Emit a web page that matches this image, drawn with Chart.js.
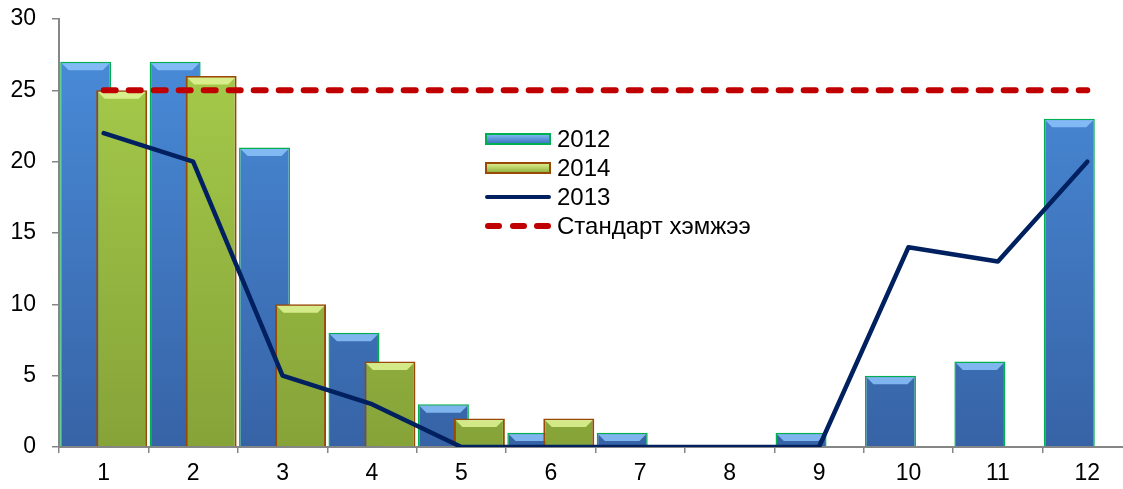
<!DOCTYPE html>
<html>
<head>
<meta charset="utf-8">
<script src="https://cdn.jsdelivr.net/npm/chart.js@4"></script>
<style>
  html, body { margin: 0; padding: 0; background: #fff; overflow: hidden; }
  #wrap { position: relative; width: 1133px; height: 489px; }
  #legend { position: absolute; left: 485px; top: 124px; font-family: "Liberation Sans", Arial, sans-serif; font-size: 24px; color: #000; }
  .row { display: flex; align-items: center; height: 29px; }
  .sym { width: 66px; margin-right: 6px; display: flex; align-items: center; justify-content: space-between; }
  .barBlue { height: 12px; border: 2px solid #00b050; background: linear-gradient(#7ab4f0, #3f78c4); box-sizing: border-box; }
  .barGreen { height: 12px; border: 2px solid #984807; background: linear-gradient(#d8ec8a, #93b440); box-sizing: border-box; }
  .lineNavy { height: 4px; border-radius: 2px; background: #002060; }
  .dash { width: 17px; height: 6px; border-radius: 3px; background: #c00000; }
</style>
</head>
<body>
<div id="wrap">
  <canvas id="chart" width="1133" height="489"></canvas>
  <div id="legend"></div>
</div>
<script>
// Months on the x axis
const months = ['1', '2', '3', '4', '5', '6', '7', '8', '9', '10', '11', '12'];

const values2012 = [27, 27, 21, 8, 3, 1, 1, 0, 1, 5, 6, 23];
const values2014 = [25, 26, 10, 6, 2, 2, null, null, null, null, null, null];
const values2013 = [22, 20, 5, 3, 0, 0, 0, 0, 0, 14, 13, 20];
const standard = [25, 25, 25, 25, 25, 25, 25, 25, 25, 25, 25, 25];

const seriesNames = ['2012', '2014', '2013', 'Стандарт хэмжээ'];
const yTicks = [0, 5, 10, 15, 20, 25, 30];

const font = '"Liberation Sans", Arial, sans-serif';

function vGradient(ctx, top, bottom) {
  const area = ctx.chart.chartArea;
  if (!area) return top;
  const g = ctx.chart.ctx.createLinearGradient(0, area.top, 0, area.bottom);
  g.addColorStop(0, top);
  g.addColorStop(1, bottom);
  return g;
}

function drawBevel(chart, index) {
  const ds = chart.data.datasets[index];
  const meta = chart.getDatasetMeta(index);
  const c = chart.ctx;
  meta.data.forEach((bar, i) => {
    if (!ds.data[i]) return;
    const p = bar.getProps(['x', 'y', 'width', 'base'], true);
    const h = p.base - p.y;
    const b = Math.min(7, h / 2);
    const l = p.x - p.width / 2 + 1.5;
    const r = p.x + p.width / 2 - 1.5;
    const t = p.y + 1.5;
    c.save();
    c.fillStyle = ds.bevel;
    c.beginPath();
    c.moveTo(l, t);
    c.lineTo(r, t);
    c.lineTo(r - b, t + b);
    c.lineTo(l + b, t + b);
    c.closePath();
    c.fill();
    c.restore();
  });
}

// 2012 sits left in each group but 2014 must be painted over it,
// so the 2014 bars are drawn right after the 2012 ones
let drawingLate = false;
const barsPlugin = {
  id: 'bars',
  beforeDatasetDraw(chart, args) {
    if (args.index === 1 && !drawingLate) return false;
  },
  afterDatasetDraw(chart, args) {
    if (args.index !== 0) return;
    drawBevel(chart, 0);
    drawingLate = true;
    chart.getDatasetMeta(1).controller.draw();
    drawingLate = false;
    drawBevel(chart, 1);
  }
};

new Chart(document.getElementById('chart'), {
  data: {
    labels: months,
    datasets: [
      {
        type: 'bar',
        label: seriesNames[0],
        data: values2012,
        order: 2,
        backgroundColor: ctx => vGradient(ctx, '#4a8edc', '#3763a6'),
        borderColor: '#00b050',
        borderWidth: 1.5,
        bevel: 'rgba(140,195,250,0.85)',
        categoryPercentage: 0.805,
        barPercentage: 1.417,
      },
      {
        type: 'bar',
        label: seriesNames[1],
        data: values2014,
        order: 3,
        backgroundColor: ctx => vGradient(ctx, '#a8cf4c', '#86a338'),
        borderColor: '#984807',
        borderWidth: 2,
        bevel: 'rgba(225,245,150,0.85)',
        categoryPercentage: 0.805,
        barPercentage: 1.417,
      },
      {
        type: 'line',
        label: seriesNames[2],
        data: values2013,
        order: 0,
        borderColor: '#002060',
        borderWidth: 4.5,
        borderCapStyle: 'round',
        borderJoinStyle: 'round',
        pointRadius: 0,
        tension: 0,
      },
      {
        type: 'line',
        label: seriesNames[3],
        data: standard,
        order: 1,
        borderColor: '#c00000',
        borderWidth: 6,
        borderDash: [12, 13],
        borderCapStyle: 'round',
        pointRadius: 0,
      },
    ],
  },
  options: {
    responsive: false,
    animation: false,
    layout: { padding: { top: 19, right: 1, bottom: 0, left: 0 } },
    plugins: {
      legend: { display: false },
      tooltip: { enabled: false },
    },
    scales: {
      x: {
        afterFit: s => { s.height = 42; },
        grid: { offset: true, drawOnChartArea: false, tickLength: 6, color: '#868686', lineWidth: 1.5 },
        border: { color: '#868686', width: 2 },
        ticks: { color: '#000', font: { family: font, size: 23 }, padding: 7, maxRotation: 0 },
      },
      y: {
        min: 0,
        max: 30,
        afterFit: s => { s.width = 59; s.paddingTop = 0; s.paddingBottom = 0; },
        afterBuildTicks: s => { s.ticks = yTicks.map(v => ({ value: v })); },
        grid: { drawOnChartArea: false, tickLength: 7, color: '#868686', lineWidth: 1.5 },
        border: { color: '#868686', width: 2 },
        ticks: { color: '#000', font: { family: font, size: 23 }, padding: 16 },
      },
    },
  },
  plugins: [barsPlugin],
});

// legend drawn as html inside the plot
const symbols = [
  '<div class="sym"><div class="barBlue" style="width:66px"></div></div>',
  '<div class="sym"><div class="barGreen" style="width:66px"></div></div>',
  '<div class="sym"><div class="lineNavy" style="width:66px"></div></div>',
  '<div class="sym"><div class="dash"></div><div class="dash"></div><div class="dash"></div></div>',
];
document.getElementById('legend').innerHTML = seriesNames
  .map((name, i) => '<div class="row">' + symbols[i] + '<span>' + name + '</span></div>')
  .join('');
</script>
</body>
</html>
